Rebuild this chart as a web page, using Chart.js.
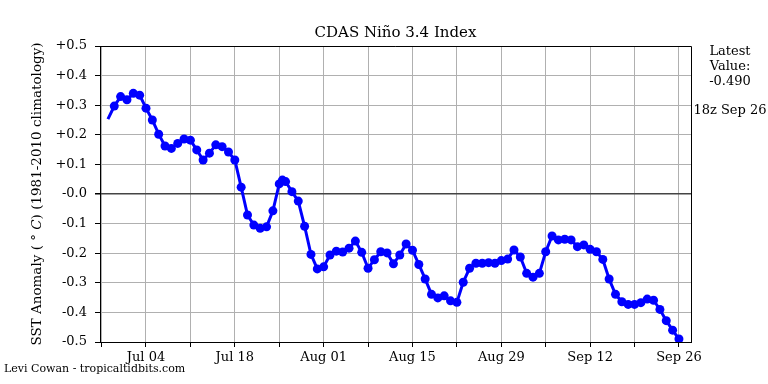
<!DOCTYPE html>
<html>
<head>
<meta charset="utf-8">
<script src="https://cdn.jsdelivr.net/npm/chart.js@4.4.1/dist/chart.umd.min.js"></script>
<style>
  html, body { margin: 0; padding: 0; background: #fff; }
  #wrap { width: 768px; height: 384px; }
</style>
</head>
<body>
<div id="wrap"><canvas id="ninoChart" width="768" height="384"></canvas></div>
<script>
// days since Jul 04 (00z); one extra 12z reading on Jul 25
const days = [
  -6, -5, -4, -3, -2, -1, 0, 1, 2, 3, 4, 5, 6, 7, 8, 9, 10, 11, 12, 13,
  14, 15, 16, 17, 18, 19, 20, 21, 21.5, 22, 23, 24, 25, 26, 27, 28, 29, 30, 31, 32,
  33, 34, 35, 36, 37, 38, 39, 40, 41, 42, 43, 44, 45, 46, 47, 48, 49, 50, 51, 52,
  53, 54, 55, 56, 57, 58, 59, 60, 61, 62, 63, 64, 65, 66, 67, 68, 69, 70, 71, 72,
  73, 74, 75, 76, 77, 78, 79, 80, 81, 82, 83, 84
];
const anomaly = [
  0.253, 0.297, 0.329, 0.318, 0.340, 0.334, 0.290, 0.250, 0.202, 0.162,
  0.154, 0.171, 0.186, 0.182, 0.149, 0.115, 0.138, 0.166, 0.160, 0.142,
  0.115, 0.023, -0.071, -0.105, -0.116, -0.111, -0.057, 0.034, 0.047, 0.042,
  0.008, -0.024, -0.109, -0.204, -0.253, -0.246, -0.206, -0.193, -0.196, -0.183,
  -0.159, -0.197, -0.251, -0.222, -0.195, -0.199, -0.236, -0.206, -0.169, -0.190,
  -0.238, -0.287, -0.339, -0.351, -0.344, -0.361, -0.366, -0.298, -0.251, -0.234,
  -0.234, -0.232, -0.234, -0.225, -0.220, -0.189, -0.213, -0.268, -0.281, -0.268,
  -0.195, -0.142, -0.155, -0.153, -0.155, -0.178, -0.172, -0.187, -0.195, -0.221,
  -0.287, -0.339, -0.364, -0.373, -0.373, -0.367, -0.355, -0.359, -0.390, -0.428,
  -0.460, -0.490
];

const xTickDays = [-7, 0, 7, 14, 21, 28, 35, 42, 49, 56, 63, 70, 77, 84];
const xLabelDays = [0, 14, 28, 42, 56, 70, 84];
const xLabelText = ['Jul 04', 'Jul 18', 'Aug 01', 'Aug 15', 'Aug 29', 'Sep 12', 'Sep 26'];
const yTicks = [0.5, 0.4, 0.3, 0.2, 0.1, 0, -0.1, -0.2, -0.3, -0.4, -0.5];
const yTickLabels = ['+0.5', '+0.4', '+0.3', '+0.2', '+0.1', '-0.0', '-0.1', '-0.2', '-0.3', '-0.4', '-0.5'];

const latestValue = anomaly[anomaly.length - 1].toFixed(3);

Chart.defaults.font.family = "'DejaVu Serif', serif";
Chart.defaults.color = '#000';

const textPlugin = {
  id: 'textPlugin',
  afterDraw(chart) {
    const ctx = chart.ctx;
    const a = chart.chartArea;
    ctx.save();
    // box around plot
    ctx.strokeStyle = '#000';
    ctx.lineWidth = 1;
    ctx.beginPath();
    ctx.moveTo(a.left, a.top + 0.5);
    ctx.lineTo(a.right + 0.5, a.top + 0.5);
    ctx.lineTo(a.right + 0.5, a.bottom);
    ctx.stroke();

    ctx.fillStyle = '#000';
    ctx.textAlign = 'center';
    ctx.textBaseline = 'middle';
    ctx.font = "15px 'DejaVu Serif'";
    ctx.fillText('CDAS Niño 3.4 Index', (a.left + a.right) / 2, 33);

    ctx.font = "13px 'DejaVu Serif'";
    ctx.fillText('Latest', 730, 52);
    ctx.fillText('Value:', 730, 67);
    ctx.fillText(latestValue, 730, 82);
    ctx.fillText('18z Sep 26', 730, 111);

    ctx.textAlign = 'left';
    ctx.font = "11px 'DejaVu Serif'";
    ctx.fillText('Levi Cowan - tropicaltidbits.com', 4, 369);

    // rotated y title, with italic C as in the original
    ctx.translate(37, (a.top + a.bottom) / 2);
    ctx.rotate(-Math.PI / 2);
    const reg = "13.5px 'DejaVu Serif'";
    const ita = "italic 13.5px 'DejaVu Serif'";
    const parts = [
      ['SST Anomaly ( ° ', reg],
      ['C', ita],
      [') (1981-2010 climatology)', reg]
    ];
    let total = 0;
    parts.forEach(p => { ctx.font = p[1]; total += ctx.measureText(p[0]).width; });
    let x = -total / 2;
    parts.forEach(p => {
      ctx.font = p[1];
      ctx.fillText(p[0], x, 0);
      x += ctx.measureText(p[0]).width;
    });
    ctx.restore();
  }
};

const ctx = document.getElementById('ninoChart').getContext('2d');
new Chart(ctx, {
  type: 'line',
  data: {
    datasets: [{
      data: days.map((d, i) => ({ x: d, y: anomaly[i] })),
      borderColor: '#0000ff',
      backgroundColor: '#0000ff',
      borderWidth: 3,
      pointRadius: days.map((d, i) => i === 0 ? 0 : 4.5),
      pointBorderWidth: 0,
      tension: 0
    }]
  },
  options: {
    responsive: false,
    animation: false,
    layout: { padding: { top: 46, right: 77, left: 0, bottom: 0 } },
    plugins: {
      legend: { display: false },
      tooltip: { enabled: false }
    },
    scales: {
      x: {
        type: 'linear',
        min: -7.25,
        max: 85.9,
        afterFit: s => { s.height = 42; },
        afterBuildTicks: s => { s.ticks = xTickDays.map(v => ({ value: v })); },
        grid: { color: '#b0b0b0', lineWidth: 1, tickLength: 5, tickColor: '#000' },
        border: { display: true, color: '#000', width: 1 },
        ticks: {
          autoSkip: false,
          maxRotation: 0,
          padding: 3,
          font: { size: 13 },
          callback: v => {
            const k = xLabelDays.indexOf(v);
            return k >= 0 ? xLabelText[k] : '';
          }
        }
      },
      y: {
        min: -0.5,
        max: 0.5,
        afterFit: s => { s.width = 100; },
        afterBuildTicks: s => { s.ticks = yTicks.map(v => ({ value: v })); },
        grid: {
          color: c => (c.tick && c.tick.value === 0) ? '#444' : '#b0b0b0',
          lineWidth: c => (c.tick && c.tick.value === 0) ? 1.5 : 1,
          tickLength: 5,
          tickColor: '#000'
        },
        border: { display: true, color: '#000', width: 1 },
        ticks: {
          padding: 8,
          font: { size: 13 },
          callback: v => {
            const k = yTicks.findIndex(t => Math.abs(t - v) < 1e-9);
            return k >= 0 ? yTickLabels[k] : '';
          }
        }
      }
    }
  },
  plugins: [textPlugin]
});
</script>
</body>
</html>
